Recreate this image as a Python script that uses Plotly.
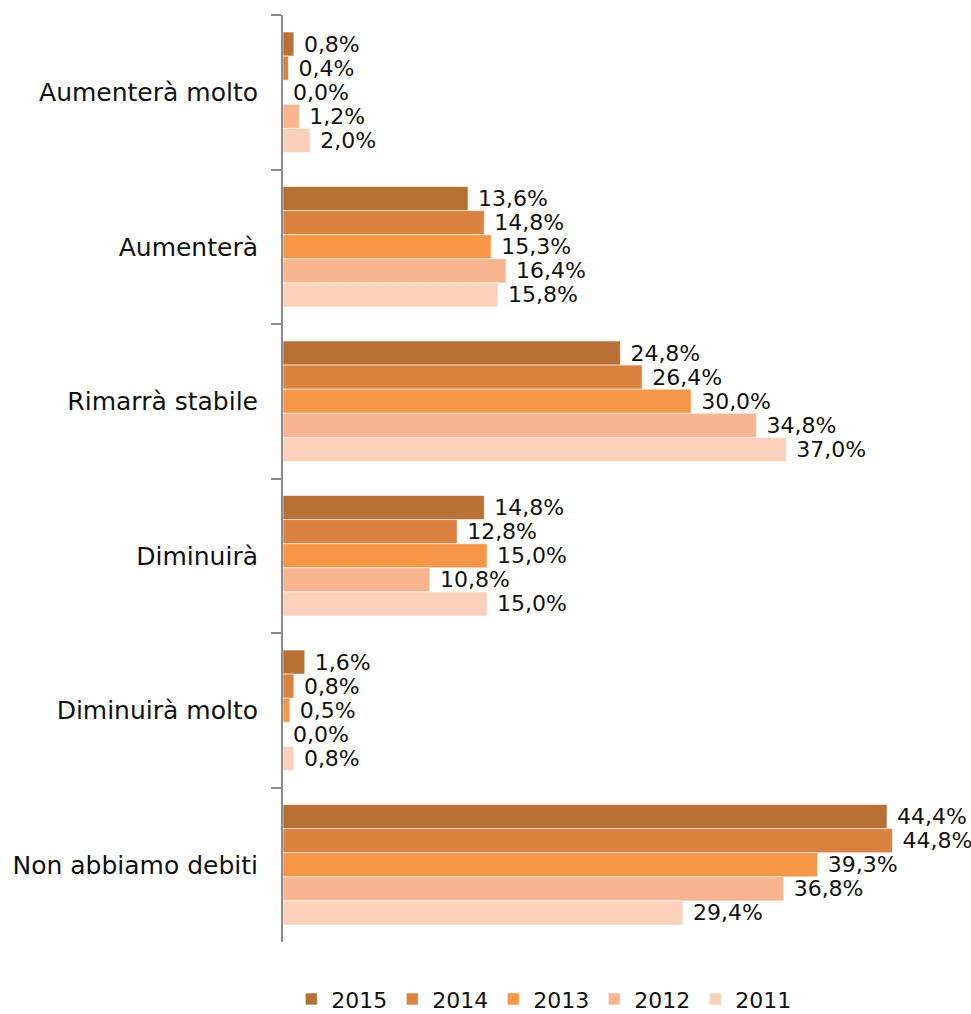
import plotly.graph_objects as go

categories = ["Aumenterà molto", "Aumenterà", "Rimarrà stabile",
              "Diminuirà", "Diminuirà molto", "Non abbiamo debiti"]
years = ["2015", "2014", "2013", "2012", "2011"]
values = {
    "2015": [0.8, 13.6, 24.8, 14.8, 1.6, 44.4],
    "2014": [0.4, 14.8, 26.4, 12.8, 0.8, 44.8],
    "2013": [0.0, 15.3, 30.0, 15.0, 0.5, 39.3],
    "2012": [1.2, 16.4, 34.8, 10.8, 0.0, 36.8],
    "2011": [2.0, 15.8, 37.0, 15.0, 0.8, 29.4],
}
colors = {
    "2015": "#B87034",
    "2014": "#DC8240",
    "2013": "#F79646",
    "2012": "#F9B590",
    "2011": "#FBD1BB",
}

FONT = "DejaVu Sans"


def fmt(v):
    return "\u00a0" + f"{v:.1f}".replace(".", ",") + "%"


fig = go.Figure()
for yr in years:
    fig.add_trace(go.Bar(
        name=yr,
        y=categories,
        x=values[yr],
        orientation="h",
        marker=dict(color=colors[yr], line=dict(color="white", width=0.6)),
        text=[fmt(v) for v in values[yr]],
        textposition="outside",
        constraintext="none",
        cliponaxis=False,
        textfont=dict(family=FONT, size=22, color="#111111"),
    ))

fig.update_layout(
    width=971,
    height=1014,
    barmode="group",
    bargap=0.22,
    bargroupgap=0,
    plot_bgcolor="white",
    paper_bgcolor="white",
    margin=dict(l=283, r=35, t=15, b=72, autoexpand=False),
    font=dict(family=FONT, size=22, color="#111111"),
    xaxis=dict(range=[0, 48], visible=False, showgrid=False, zeroline=False),
    yaxis=dict(
        autorange="reversed",
        showline=True,
        linecolor="#8C8C8C",
        linewidth=2,
        ticks="outside",
        tickson="boundaries",
        ticklen=10,
        tickcolor="#8C8C8C",
        tickwidth=1.5,
        ticklabelstandoff=18,
        tickfont=dict(family=FONT, size=25, color="#111111"),
        showgrid=False,
        zeroline=False,
    ),
    legend=dict(
        orientation="h",
        x=0.56, xanchor="center", xref="container",
        y=-0.039, yanchor="top", yref="paper",
        font=dict(family=FONT, size=22, color="#111111"),
        itemwidth=30,
        tracegroupgap=0,
    ),
    showlegend=True,
)

fig.write_html("out.html")
